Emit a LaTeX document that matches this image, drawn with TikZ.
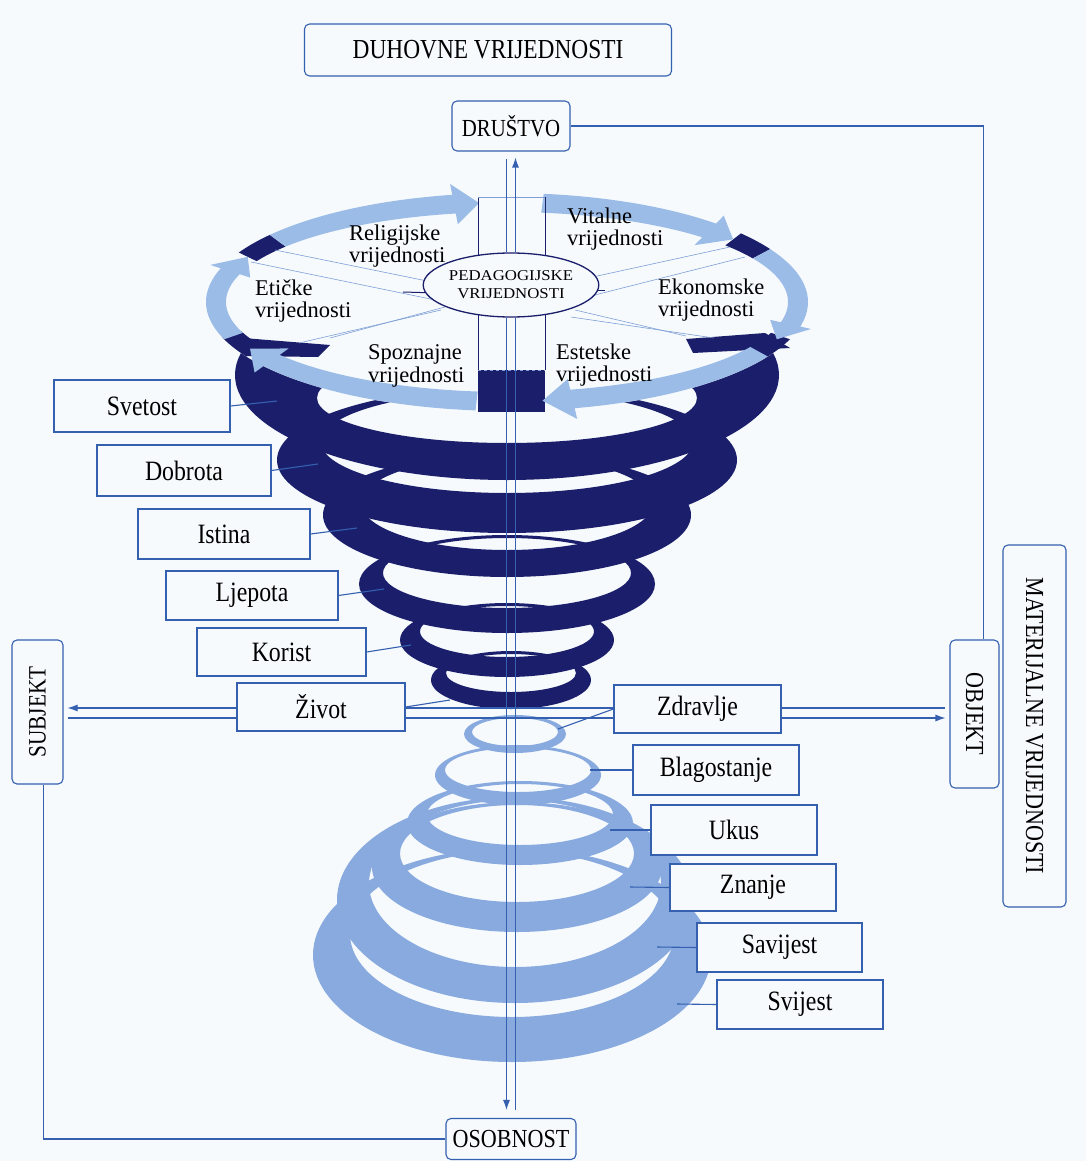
\documentclass[tikz,border=0pt]{standalone}
\usepackage{graphicx}
\usepackage{fontspec}
\setmainfont{Liberation Serif}
\newfontfamily\labfont[FakeStretch=0.85]{Liberation Serif}
\newfontfamily\pedfont[FakeStretch=1.12]{Liberation Serif}
\usetikzlibrary{arrows.meta,shapes.geometric}

\definecolor{paper}{HTML}{F6FAFD}
\definecolor{navy}{HTML}{1B1F6B}
\definecolor{lightring}{HTML}{88AADF}
\definecolor{arrowblue}{HTML}{9CBCE8}
\definecolor{lineblue}{HTML}{3560B0}
\definecolor{spokeblue}{HTML}{7E9FD6}

% ring: color, cx, cy, a, b, side thickness, front thickness, back thickness
\newcommand{\cring}[8]{%
  \pgfmathsetmacro{\cringai}{#4-#6}%
  \pgfmathsetmacro{\cringyi}{#3+(#8-#7)/2}%
  \pgfmathsetmacro{\cringbi}{#5-(#7+#8)/2}%
  \fill[#1, even odd rule] (#2,#3) ellipse[x radius=#4, y radius=#5]
      (#2,\cringyi) ellipse[x radius=\cringai, y radius=\cringbi];}

% arrow segment on the disc rim: start angle, head start, tip
\newcommand{\discarrow}[3]{%
  \fill[arrowblue] plot[domain=#1:#2, samples=30, variable=\t] ({507+301*cos(\t)},{302+109*sin(\t)})
   -- ({507+312*cos(#2)},{302+120*sin(#2)})
   -- ({507+291*cos(#3)},{302+99.5*sin(#3)})
   -- ({507+270*cos(#2)},{302+79*sin(#2)})
   -- plot[domain=#2:#1, samples=30, variable=\t] ({507+281*cos(\t)},{302+90*sin(\t)})
   -- cycle;}

\newcommand{\discblock}[2]{%
  \fill[navy] plot[domain=#1:#2, samples=10, variable=\t] ({507+301*cos(\t)},{302+109*sin(\t)})
   -- plot[domain=#2:#1, samples=10, variable=\t] ({507+281*cos(\t)},{302+90*sin(\t)}) -- cycle;}

\begin{document}
\begin{tikzpicture}[x=1pt,y=-1pt,
  labbox/.style={draw=lineblue, line width=1.1pt, fill=paper, inner sep=0pt,
     minimum width=170pt, minimum height=49pt, font=\labfont\fontsize{28}{28}\selectfont},
  capbox/.style={draw=lineblue, line width=1.1pt, fill=paper, rounded corners=5pt,
     inner sep=0pt, font=\labfont\fontsize{26}{26}\selectfont},
  sectlab/.style={anchor=west, align=left, inner sep=0pt, font=\fontsize{22.5}{22.5}\selectfont},
  axisline/.style={draw=lineblue, line width=1.1pt},
  leader/.style={draw=lineblue, line width=1.1pt},
  tipstyle/.style={-{Latex[length=10pt,width=7pt]}},
  spoke/.style={draw=spokeblue, line width=0.6pt},
  rimline/.style={draw=navy, line width=0.8pt}
]
\useasboundingbox (0,0) rectangle (1086,1161);
\fill[paper] (0,0) rectangle (1086,1161);

% ---- lower (light) cone, bottom ring first
\cring{lightring}{512}{955}{199}{107}{37}{45}{3}
\cring{lightring}{515}{900}{178}{103}{32}{36}{3}
\cring{lightring}{517}{867}{145}{65}{28}{30}{3}
\cring{lightring}{520}{823}{113}{42}{20}{20}{3}
\cring{lightring}{518}{775}{83}{30}{10}{13}{3}
\cring{lightring}{515}{734}{51}{19}{8}{7}{3}

% ---- upper (dark) cone, bottom ring first
\cring{navy}{511}{680}{80}{29}{15}{17}{3}
\cring{navy}{507}{640}{107}{37}{20}{20}{3}
\cring{navy}{507}{584}{148}{49}{24}{25}{3}
\cring{navy}{507}{515}{184}{62}{38}{27}{3}
\cring{navy}{507}{460}{230}{73}{44}{40}{4}
\cring{navy}{507}{375}{272}{105}{82}{37}{83}

% ---- top disc
\fill[paper] (507,302) ellipse[x radius=301, y radius=109];
\discblock{207}{218}
\discblock{321}{331}
\discblock{150}{161}
\discblock{20}{31}
\fill[navy] (243,338) -- (330,345) -- (318,357) -- (246,356) -- cycle;
\fill[navy] (686,339) -- (765,333) -- (790,348) -- (693,353) -- cycle;
\fill[navy] (478,370) rectangle (545,412);
\discarrow{218}{259.5}{264.5}
\discarrow{277}{314}{321}
\discarrow{331}{373}{382}
\discarrow{30}{77}{83}
\discarrow{96}{144}{152}
\discarrow{160}{198}{207}

% spokes
\draw[spoke] (275,250) -- (437,283);
\draw[spoke] (251,262) -- (445,302);
\draw[navy, line width=1pt] (403,292) -- (437,293);
\draw[spoke] (730,247) -- (579,280);
\draw[spoke] (745,257) -- (575,300);
\draw[navy, line width=1pt] (579,290) -- (605,290);
\draw[spoke] (330,338) -- (445,307);
\draw[spoke] (299,343) -- (441,310);
\draw[spoke] (686,336) -- (575,310);
\draw[spoke] (714,338) -- (571,317);
\draw[rimline] (478,197) -- (478,258);
\draw[rimline] (545,197) -- (545,258);
\draw[rimline] (478,312) -- (478,370);
\draw[rimline] (545,312) -- (545,370);
\draw[spoke] (478,197) -- (545,197);
\draw[spoke, dashed] (478,370) -- (545,370);

% ---- nodes
\node[capbox, minimum width=367pt, minimum height=52pt, font=\labfont\fontsize{27.5}{27.5}\selectfont] (duh) at (488,50) {DUHOVNE VRIJEDNOSTI};
\node[capbox, minimum width=118pt, minimum height=50pt, font=\labfont\fontsize{24.5}{24.5}\selectfont] (dru) at (511,126) {DRUŠTVO};
\node[capbox, minimum width=130pt, minimum height=41pt] (osob) at (511,1139) {OSOBNOST};
\node[capbox, minimum width=51pt, minimum height=144pt, font=\labfont\fontsize{25}{25}\selectfont] (subj) at (37.5,712) {\rotatebox{90}{SUBJEKT}};
\node[capbox, minimum width=49pt, minimum height=148pt] (obj) at (974.5,714) {\rotatebox{-90}{OBJEKT}};
\node[capbox, minimum width=63pt, minimum height=362pt] (mat) at (1034.5,726) {\rotatebox{-90}{MATERIJALNE VRIJEDNOSTI}};

\node[ellipse, draw=navy, line width=1.3pt, fill=paper, minimum width=136pt, minimum height=64pt,
      inner sep=0pt, align=center, font=\pedfont\fontsize{15}{18}\selectfont] (ped) at (511,285)
      {PEDAGOGIJSKE\\VRIJEDNOSTI};

\node[sectlab] (rel) at (349,246) {Religijske\\vrijednosti};
\node[sectlab] (vit) at (567,229) {Vitalne\\vrijednosti};
\node[sectlab] (eti) at (255,301) {Etičke\\vrijednosti};
\node[sectlab] (eko) at (658,300) {Ekonomske\\vrijednosti};
\node[sectlab] (spo) at (368,366) {Spoznajne\\vrijednosti};
\node[sectlab] (est) at (556,365) {Estetske\\vrijednosti};

\node[labbox, minimum width=176pt, minimum height=52pt] (svet) at (142,406) {Svetost};
\node[labbox, minimum width=174pt, minimum height=51pt] (dobr) at (184,470.5) {Dobrota};
\node[labbox, minimum width=172pt, minimum height=50pt] (isti) at (224,534) {Istina};
\node[labbox, minimum width=172pt, minimum height=49pt] (ljep) at (252,595.5) {Ljepota};
\node[labbox, minimum width=169pt, minimum height=48pt] (kori) at (281.5,652) {Korist};
\node[labbox, minimum width=168pt, minimum height=48pt] (zivot) at (321,707) {Život};

\node[labbox, minimum width=167pt, minimum height=48pt] (zdrav) at (697.5,709) {Zdravlje};
\node[labbox, minimum width=166pt, minimum height=50pt] (blag) at (716,770) {Blagostanje};
\node[labbox, minimum width=166pt, minimum height=50pt] (ukus) at (734,830) {Ukus};
\node[labbox, minimum width=166pt, minimum height=47pt] (znan) at (753,887.5) {Znanje};
\node[labbox, minimum width=165pt, minimum height=49pt] (savi) at (779.5,947.5) {Savijest};
\node[labbox, minimum width=166pt, minimum height=49pt] (svij) at (800,1004.5) {Svijest};

% ---- leader lines to the rings
\coordinate (csv) at (277,401);
\coordinate (cdo) at (318,464);
\coordinate (cis) at (357,528);
\coordinate (clj) at (384,589);
\coordinate (cko) at (411,645);
\coordinate (czi) at (450,700);
\coordinate (czd) at (558,729);
\coordinate (cbl) at (590,770);
\coordinate (cuk) at (610,830);
\coordinate (czn) at (630,887);
\coordinate (csa) at (657,947);
\coordinate (csj) at (677,1004);
\draw[leader] (svet.east) -- (csv);
\draw[leader] (dobr.east) -- (cdo);
\draw[leader] (isti.east) -- (cis);
\draw[leader] (ljep.east) -- (clj);
\draw[leader] (kori.east) -- (cko);
\draw[leader] (zivot.east) -- (czi);
\draw[leader] (zdrav.west) -- (czd);
\draw[leader] (blag.west) -- (cbl);
\draw[leader] (ukus.west) -- (cuk);
\draw[leader] (znan.west) -- (czn);
\draw[leader] (savi.west) -- (csa);
\draw[leader] (svij.west) -- (csj);

% ---- vertical double axis
\draw[axisline] ([xshift=-4.5pt]ped.north) -- ([xshift=-4.5pt,yshift=-7pt]dru.south);
\draw[axisline, tipstyle] ([xshift=4.5pt]ped.north) -- ([xshift=4.5pt,yshift=-6pt]dru.south);
\draw[axisline, tipstyle] ([xshift=-4.5pt]ped.south) -- ([xshift=-4.5pt,yshift=8pt]osob.north);
\draw[axisline] ([xshift=4.5pt]ped.south) -- ([xshift=4.5pt,yshift=8pt]osob.north);

% ---- horizontal double axis
\coordinate (hu) at (0,708);
\coordinate (hl) at (0,718);
\draw[axisline, tipstyle, shorten >=4pt] (zivot.west |- hu) -- (subj.east |- hu);
\draw[axisline, shorten >=4pt] (zivot.west |- hl) -- (subj.east |- hl);
\draw[axisline] (zivot.east |- hu) -- (zdrav.west |- hu);
\draw[axisline] (zivot.east |- hl) -- (zdrav.west |- hl);
\draw[axisline, shorten >=4pt] (zdrav.east |- hu) -- (obj.west |- hu);
\draw[axisline, tipstyle, shorten >=4pt] (zdrav.east |- hl) -- (obj.west |- hl);

% ---- frame connectors
\draw[leader] (dru.east) -| ([xshift=9pt]obj.north);
\draw[leader] ([xshift=6pt]subj.south) |- (osob.west);
\end{tikzpicture}
\end{document}
